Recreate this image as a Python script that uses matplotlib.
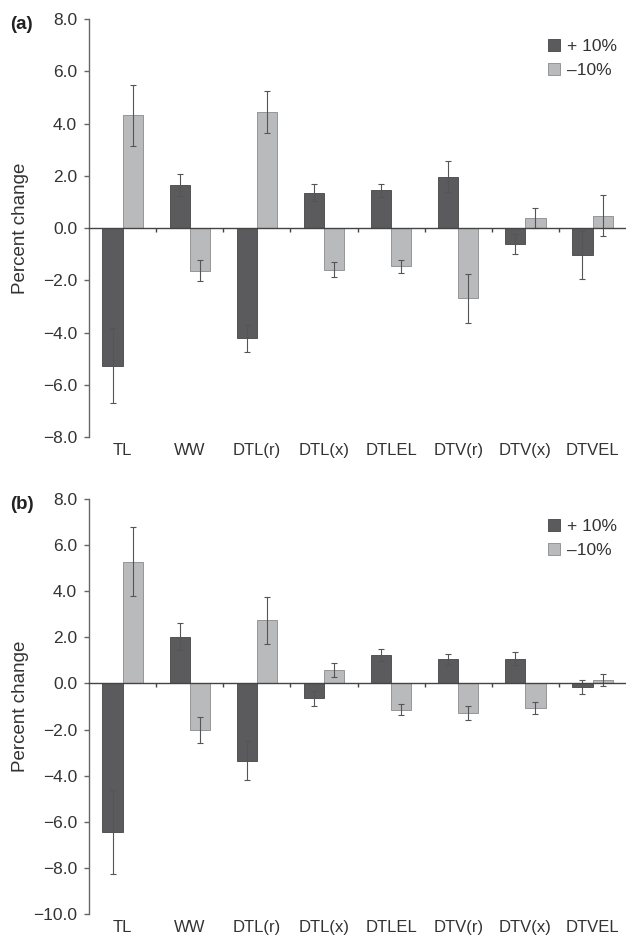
import numpy as np
import matplotlib
matplotlib.use('Agg')
import matplotlib.pyplot as plt

plt.rcParams['font.family'] = ['Liberation Sans', 'DejaVu Sans']

categorias = ['TL', 'WW', 'DTL(r)', 'DTL(x)', 'DTLEL', 'DTV(r)', 'DTV(x)', 'DTVEL']
series = ['+ 10%', '\u201310%']

# panel (a)
a_mas = [-5.27, 1.64, -4.22, 1.36, 1.44, 1.97, -0.61, -1.02]
a_mas_err = [1.43, 0.42, 0.52, 0.33, 0.26, 0.60, 0.38, 0.92]
a_menos = [4.31, -1.64, 4.44, -1.59, -1.46, -2.69, 0.39, 0.48]
a_menos_err = [1.16, 0.40, 0.80, 0.28, 0.24, 0.95, 0.37, 0.80]

# panel (b)
b_mas = [-6.44, 2.02, -3.35, -0.65, 1.24, 1.04, 1.07, -0.15]
b_mas_err = [1.82, 0.58, 0.85, 0.33, 0.27, 0.24, 0.28, 0.32]
b_menos = [5.28, -2.02, 2.73, 0.57, -1.14, -1.29, -1.06, 0.15]
b_menos_err = [1.50, 0.58, 1.03, 0.30, 0.25, 0.29, 0.27, 0.28]

paneles = [
    ('(a)', a_mas, a_mas_err, a_menos, a_menos_err, (-8, 8)),
    ('(b)', b_mas, b_mas_err, b_menos, b_menos_err, (-10, 8)),
]

oscuro = '#5b5b5d'
claro = '#b9babc'
texto = '#333333'

def formato(v, pos):
    return ('%.1f' % v).replace('-', '\u2212')

fig = plt.figure(figsize=(6.26, 9.36), dpi=100)
posiciones = [[0.1422, 0.533, 0.858, 0.4466], [0.1422, 0.0235, 0.858, 0.4434]]

x = np.arange(len(categorias))
w = 0.3
for pos, (etiqueta, mas, mas_e, menos, menos_e, ylim) in zip(posiciones, paneles):
    ax = fig.add_axes(pos)
    ax.bar(x - w/2, mas, w, color=oscuro, edgecolor='#444444', linewidth=0.6,
           yerr=mas_e, error_kw=dict(ecolor='#555555', elinewidth=0.8, capsize=2, capthick=0.8),
           label=series[0], zorder=2)
    ax.bar(x + w/2, menos, w, color=claro, edgecolor='#8a8a8c', linewidth=0.6,
           yerr=menos_e, error_kw=dict(ecolor='#555555', elinewidth=0.8, capsize=2, capthick=0.8),
           label=series[1], zorder=2)
    ax.set_xlim(-0.5, len(categorias) - 0.5)
    ax.set_ylim(*ylim)
    ax.set_yticks(np.arange(ylim[0], ylim[1] + 0.1, 2))
    ax.yaxis.set_major_formatter(plt.FuncFormatter(formato))

    ax.spines['right'].set_visible(False)
    ax.spines['bottom'].set_visible(False)
    ax.spines['top'].set_position(('data', 0))
    ax.spines['top'].set_color('#444444')
    ax.spines['top'].set_linewidth(1.0)
    ax.spines['top'].set_zorder(3)
    ax.spines['left'].set_color('#666666')
    ax.spines['left'].set_linewidth(1.0)

    ax.set_xticks(x)
    ax.set_xticklabels(categorias)
    ax.set_xticks(x[:-1] + 0.5, minor=True)
    ax.tick_params(axis='x', which='major', bottom=True, top=False, length=0, pad=4,
                   labelsize=12, labelcolor=texto)
    ax.tick_params(axis='x', which='minor', bottom=False, top=True, direction='in',
                   length=3, width=1.0, color='#444444')
    ax.tick_params(axis='y', direction='out', length=3.6, width=1.0, color='#666666',
                   labelsize=12.5, labelcolor=texto, pad=5)
    ax.set_ylabel('Percent change', fontsize=13.5, color=texto)
    ax.yaxis.set_label_coords(-0.112, 0.5)

    ax.legend(loc='upper right', bbox_to_anchor=(1.012, 0.99), frameon=False,
              fontsize=12.5, handlelength=0.7, handleheight=0.7, handletextpad=0.4,
              labelspacing=0.5, labelcolor=texto)

    fig.text(0.016, pos[1] + pos[3] - 0.006, etiqueta, fontsize=13.5, fontweight='bold',
             color='#222222', va='center', ha='left')

fig.savefig('out.png', dpi=100)
plt.close()
